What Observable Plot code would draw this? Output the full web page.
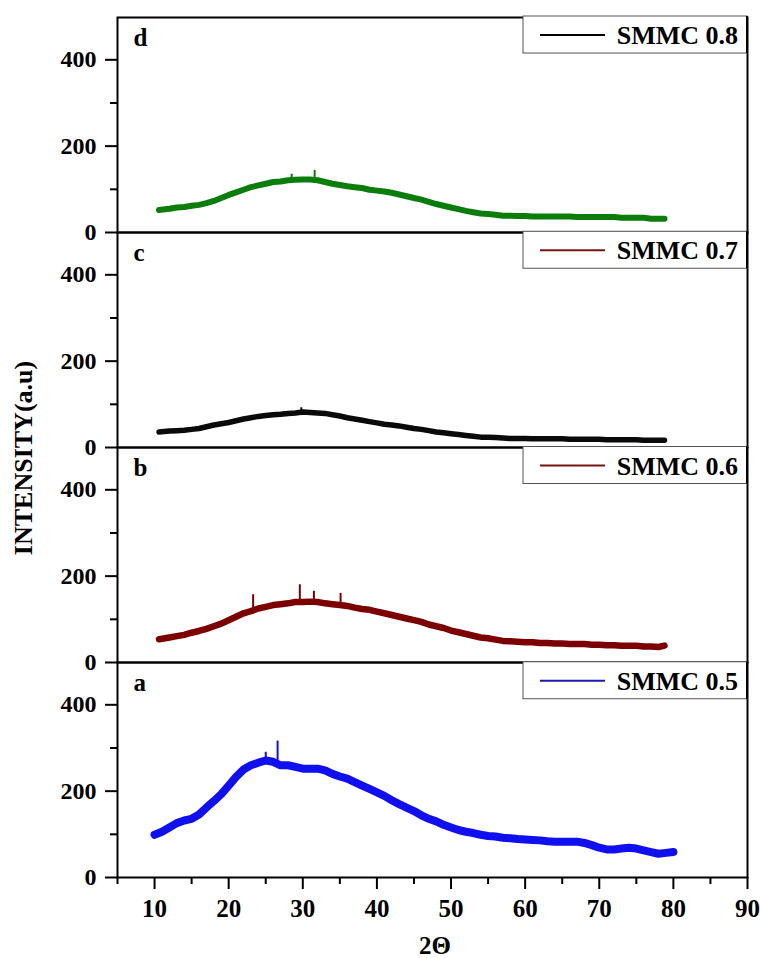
<!DOCTYPE html>
<html>
<head>
<meta charset="utf-8">
<script src="https://cdn.jsdelivr.net/npm/d3@7"></script>
<script src="https://cdn.jsdelivr.net/npm/@observablehq/plot@0.6"></script>
<style>
  html, body { margin: 0; padding: 0; background: #fff; }
  #chart svg { display: block; }
</style>
</head>
<body>
<div id="chart"></div>
<script>
// ---------------- data ----------------
const panels = ["d", "c", "b", "a"];
const seriesNames = ["SMMC 0.8", "SMMC 0.7", "SMMC 0.6", "SMMC 0.5"];

// 2θ positions where intensity was read (panel a spans 10–80, panels b–d 10.6–78.8)
const thetaA = [10,11,12,13,14,15,16,17,18,19,20,21,22,23,24,25,26,27,28,29,30,31,32,33,34,35,36,37,38,39,40,
  41,42,43,44,45,46,47,48,49,50,51,52,53,54,55,56,57,58,59,60,61,62,63,64,65,66,67,68,69,70,71,72,73,74,75,76,77,78,79,80];
const thetaBCD = [10.6,12,13,14,15,16,17,18,19,20,21,22,23,24,25,26,27,28,29,30,31,32,33,34,35,36,37,38,39,40,
  41,42,43,44,45,46,47,48,49,50,51,52,53,54,55,56,57,58,59,60,61,62,63,64,65,66,67,68,69,70,71,72,73,74,75,76,77,78,78.8];

const intensityA = [99,106,116,126,132,136,146,162,177,193,213,233,250,260,266,271,268,260,260,256,252,252,252,248,240,234,229,221,213,205,197,
  189,179,170,162,154,144,136,130,122,116,110,106,103,99,96,95,92,91,89,88,87,86,84,83,83,83,83,80,75,69,65,65,67,69,67,63,59,55,57,59];
const intensityB = [54,58,61,64,69,73,78,84,90,98,106,114,119,125,129,133,135,137,140,140,141,140,137,135,133,131,127,124,122,118,
  114,110,106,102,98,94,88,84,80,74,70,66,62,58,56,53,50,49,48,47,47,45,45,44,44,43,43,43,41,41,40,40,39,39,39,37,37,36,39];
const intensityC = [36,38,39,40,42,44,48,52,55,58,62,66,69,72,74,76,77,79,80,82,81,80,79,76,73,69,66,63,60,57,
  54,52,50,47,44,42,39,36,34,32,30,28,26,24,24,23,22,21,21,21,20,20,20,20,20,19,19,19,19,19,18,18,18,18,18,17,17,17,17];
const intensityD = [52,55,58,59,62,64,68,73,80,87,93,99,105,109,113,117,118,121,122,123,123,121,117,113,110,107,105,103,99,97,
  95,92,88,84,80,76,71,66,62,58,54,50,47,44,43,41,39,39,38,38,37,37,37,37,37,37,36,36,36,36,36,36,34,34,34,34,32,32,32];

// sharp single-point spikes visible above the noisy band
const spikeTheta = { a: [25.0, 26.6], b: [23.3, 29.6, 31.5, 35.1], c: [29.8], d: [28.5, 31.6] };
const spikeTop   = { a: [290, 316],   b: [157, 180, 165, 160],    c: [92],   d: [135, 144] };

const xTicksMajor = [10, 20, 30, 40, 50, 60, 70, 80, 90];
const xTicksMinor = [5, 15, 25, 35, 45, 55, 65, 75, 85];
const yTicksMajor = [0, 200, 400];
const yTicksMinor = [100, 300];

// ---------------- styles ----------------
const lineColor   = { d: "#0b7d0b", c: "#0a0a0a", b: "#7d0000", a: "#0f0ff0" };
const legendColor = { d: "#000000", c: "#7a1414", b: "#7a1414", a: "#1a1ab4" };
const lineWidth   = { d: 6, c: 5.5, b: 6.5, a: 8 };
const FONT = "'Liberation Serif', 'Times New Roman', Times, serif";

const seriesData = {
  a: thetaA.map((t, i) => ({ panel: "a", theta: t, I: intensityA[i] })),
  b: thetaBCD.map((t, i) => ({ panel: "b", theta: t, I: intensityB[i] })),
  c: thetaBCD.map((t, i) => ({ panel: "c", theta: t, I: intensityC[i] })),
  d: thetaBCD.map((t, i) => ({ panel: "d", theta: t, I: intensityD[i] }))
};
const spikes = {};
for (const p of panels) {
  spikes[p] = spikeTheta[p].map((t, i) => {
    const near = d3.least(seriesData[p], d => Math.abs(d.theta - t));
    return { panel: p, theta: t, base: near.I, top: spikeTop[p][i] };
  });
}

const W = 760, H = 958;
const mL = 117, mR = 13, mT = 16, mB = 81;
const bottomPanel = panels[panels.length - 1];

const marks = [];
for (const p of panels) {
  marks.push(Plot.line(seriesData[p], {
    x: "theta", y: "I", fy: "panel",
    stroke: lineColor[p], strokeWidth: lineWidth[p], strokeLinejoin: "round", strokeLinecap: "round"
  }));
  marks.push(Plot.ruleX(spikes[p], {
    x: "theta", y1: "base", y2: "top", fy: "panel",
    stroke: lineColor[p], strokeWidth: 2
  }));
}
marks.push(
  Plot.text(panels, {
    text: d => d, fy: d => d, frameAnchor: "top-left", dx: 16, dy: 11,
    lineAnchor: "top", textAnchor: "start", fontSize: 25, fontWeight: "bold", fill: "black"
  }),
  Plot.frame({ stroke: "black", strokeWidth: 2 }),
  // tick marks (labels drawn as text marks below)
  Plot.axisY({ ticks: yTicksMajor, tickSize: 12, tickFormat: () => "", strokeWidth: 2, label: null }),
  Plot.axisY({ ticks: yTicksMinor, tickSize: 7, tickFormat: () => "", strokeWidth: 2, label: null }),
  Plot.axisX({ ticks: xTicksMajor, tickSize: 12, tickFormat: () => "", strokeWidth: 2, label: null }),
  Plot.axisX({ ticks: xTicksMinor, tickSize: 7, tickFormat: () => "", strokeWidth: 2, label: null }),
  // tick labels
  Plot.text(yTicksMajor, {
    y: d => d, text: d => String(d), frameAnchor: "left", dx: -21, textAnchor: "end",
    lineAnchor: "middle", fontSize: 24, fontWeight: "bold", fill: "black"
  }),
  Plot.text(xTicksMajor, {
    x: d => d, text: d => String(d), fy: () => bottomPanel, frameAnchor: "bottom", dy: 22,
    lineAnchor: "top", textAnchor: "middle", fontSize: 25, fontWeight: "bold", fill: "black"
  })
);

const plot = Plot.plot({
  width: W, height: H,
  marginLeft: mL, marginRight: mR, marginTop: mT, marginBottom: mB,
  x: { domain: [5, 90] },
  y: { domain: [0, 498] },
  fy: { domain: panels, axis: null, padding: 0 },
  style: { fontFamily: FONT, fontWeight: "bold", background: "white", color: "black" },
  marks
});
document.getElementById("chart").appendChild(plot);

// ---------------- legends and axis titles ----------------
const svg = d3.select(plot);
const bandH = (H - mT - mB) / panels.length;
const right = W - mR;
panels.forEach((p, i) => {
  const top = mT + i * bandH;
  const g = svg.append("g");
  g.append("rect")
    .attr("x", right - 224).attr("y", top).attr("width", 224).attr("height", 37)
    .attr("fill", "white").attr("stroke", "#555").attr("stroke-width", 1);
  g.append("line")
    .attr("x1", right - 207).attr("x2", right - 142).attr("y1", top + 19).attr("y2", top + 19)
    .attr("stroke", legendColor[p]).attr("stroke-width", 2);
  g.append("text")
    .attr("x", right - 9).attr("y", top + 28).attr("text-anchor", "end")
    .attr("font-family", FONT).attr("font-weight", "bold").style("font-size", "26px").attr("fill", "black")
    .text(seriesNames[i]);
  g.append("line")
    .attr("x1", right).attr("x2", right).attr("y1", top).attr("y2", top + 37)
    .attr("stroke", "black").attr("stroke-width", 2);
});
svg.append("text")
  .attr("transform", "translate(26,458) rotate(-90)")
  .attr("text-anchor", "middle").attr("dominant-baseline", "middle")
  .attr("font-family", FONT).attr("font-weight", "bold").style("font-size", "26px").attr("fill", "black")
  .text("INTENSITY(a.u)");
svg.append("text")
  .attr("x", 435).attr("y", 954).attr("text-anchor", "middle")
  .attr("font-family", FONT).attr("font-weight", "bold").style("font-size", "25px").attr("fill", "black")
  .text("2Θ");
</script>
</body>
</html>
